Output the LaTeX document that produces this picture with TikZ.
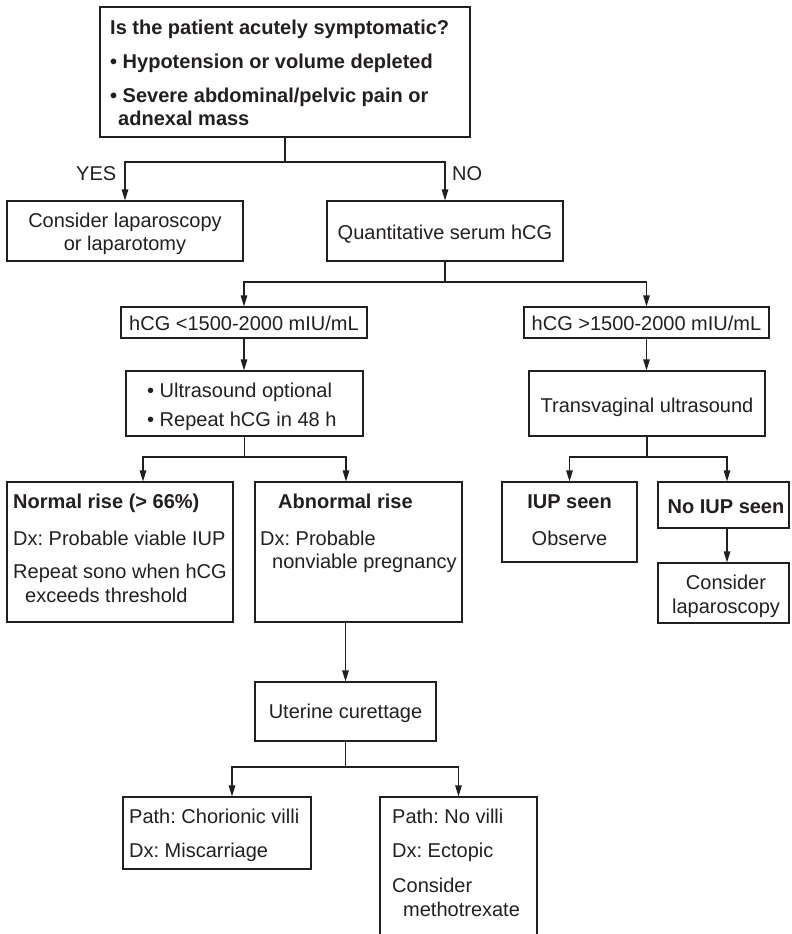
\documentclass[tikz,border=0pt]{standalone}
\usepackage{fontspec}
\setmainfont{Liberation Sans}
\usetikzlibrary{arrows.meta}
\definecolor{ink}{HTML}{231F20}
\frenchspacing
\tikzset{
  box/.style={draw=ink, line width=1.1pt, inner sep=0pt},
  txt/.style={inner sep=0pt, text=ink, font=\fontsize{20}{24}\selectfont},
  btxt/.style={inner sep=0pt, text=ink, font=\fontsize{20}{24}\selectfont\bfseries},
  ln/.style={draw=ink, line width=1.1pt},
  arr/.style={draw=ink, line width=1.1pt, -{Triangle[length=11pt,width=6.5pt]}}
}
\begin{document}
\begin{tikzpicture}[x=1pt,y=-1pt]
\useasboundingbox (0,0) rectangle (792,934);
\clip (0,0) rectangle (792,934);
% boxes
\node[box, minimum width=370pt, minimum height=130pt] (B1) at (285,72) {};
\node[box, minimum width=236pt, minimum height=60pt] (B2) at (125,231) {};
\node[box, minimum width=236pt, minimum height=60pt] (B3) at (445,231) {};
\node[box, minimum width=246pt, minimum height=31pt] (B4) at (244,322.5) {};
\node[box, minimum width=245pt, minimum height=31pt] (B5) at (646.5,322.5) {};
\node[box, minimum width=237pt, minimum height=65pt] (B6) at (244.5,403.5) {};
\node[box, minimum width=236pt, minimum height=65pt] (B7) at (647,403.5) {};
\node[box, minimum width=226pt, minimum height=140pt] (B8) at (120,552) {};
\node[box, minimum width=207pt, minimum height=140pt] (B9) at (358.5,552) {};
\node[box, minimum width=135pt, minimum height=80pt] (B10) at (569.5,522) {};
\node[box, minimum width=131pt, minimum height=46pt] (B11) at (723.5,505) {};
\node[box, minimum width=131pt, minimum height=60pt] (B12) at (723.5,593) {};
\node[box, minimum width=181pt, minimum height=59pt] (B13) at (345.5,711.5) {};
\node[box, minimum width=188pt, minimum height=72pt] (B14) at (217,833) {};
\node[box, minimum width=157pt, minimum height=153pt] (B15) at (458.5,873.5) {};
% texts
\node[btxt, anchor=base west] (t1a) at (110,35) {Is the patient acutely symptomatic?};
\node[btxt, anchor=base west] (t1b) at (110,68) {• Hypotension or volume depleted};
\node[btxt, anchor=base west] (t1c) at (110,102) {• Severe abdominal/pelvic pain or};
\node[btxt, anchor=base west] (t1d) at (118,125) {adnexal mass};
\node[txt, anchor=base] (t2a) at (125,227) {Consider laparoscopy};
\node[txt, anchor=base] (t2b) at (125,250) {or laparotomy};
\node[txt, anchor=base] (t3) at (445,239) {Quantitative serum hCG};
\node[txt, anchor=base] (t4) at (244,330) {hCG <1500-2000 mIU/mL};
\node[txt, anchor=base] (t5) at (646.5,330) {hCG >1500-2000 mIU/mL};
\node[txt, anchor=base west] (t6a) at (147,397) {• Ultrasound optional};
\node[txt, anchor=base west] (t6b) at (147,426) {• Repeat hCG in 48 h};
\node[txt, anchor=base] (t7) at (647,412) {Transvaginal ultrasound};
\node[btxt, anchor=base west] (t8a) at (13,508) {Normal rise (> 66\%)};
\node[txt, anchor=base west] (t8b) at (13,545) {Dx: Probable viable IUP};
\node[txt, anchor=base west] (t8c) at (13,578) {Repeat sono when hCG};
\node[txt, anchor=base west] (t8d) at (25,602) {exceeds threshold};
\node[btxt, anchor=base west] (t9a) at (278,508) {Abnormal rise};
\node[txt, anchor=base west] (t9b) at (260,545) {Dx: Probable};
\node[txt, anchor=base west] (t9c) at (272,568) {nonviable pregnancy};
\node[btxt, anchor=base] (t10a) at (569.5,508) {IUP seen};
\node[txt, anchor=base] (t10b) at (569.5,545) {Observe};
\node[btxt, anchor=base] (t11) at (726,513) {No IUP seen};
\node[txt, anchor=base] (t12a) at (726,589) {Consider};
\node[txt, anchor=base] (t12b) at (726,613) {laparoscopy};
\node[txt, anchor=base] (t13) at (345.5,718) {Uterine curettage};
\node[txt, anchor=base west] (t14a) at (129,823) {Path: Chorionic villi};
\node[txt, anchor=base west] (t14b) at (129,857) {Dx: Miscarriage};
\node[txt, anchor=base west] (t15a) at (392,823) {Path: No villi};
\node[txt, anchor=base west] (t15b) at (392,857) {Dx: Ectopic};
\node[txt, anchor=base west] (t15c) at (392,892) {Consider};
\node[txt, anchor=base west] (t15d) at (403,916) {methotrexate};
\node[txt, anchor=base west] (yes) at (76,180) {YES};
\node[txt, anchor=base west] (no) at (452,180) {NO};
% connectors
\coordinate (s1) at (285,162);
\draw[ln] (B1.south) -- (s1);
\draw[arr] (s1) -| (B2.north);
\draw[arr] (s1) -| (B3.north);
\coordinate (s2) at (445,282);
\draw[ln] (B3.south) -- (s2);
\draw[arr] (s2) -| (B4.north);
\draw[arr] (s2) -| (B5.north);
\draw[arr] (B4.south) -- (B4.south |- B6.north);
\draw[arr] (B5.south) -- (B5.south |- B7.north);
\coordinate (s3) at (244.5,457);
\draw[ln] (B6.south) -- (s3);
\draw[arr] (s3) -| ([xshift=23pt]B8.north);
\draw[arr] (s3) -| ([xshift=-12.5pt]B9.north);
\coordinate (s4) at (647,457);
\draw[ln] (B7.south) -- (s4);
\draw[arr] (s4) -| (B10.north);
\draw[arr] (s4) -| ([xshift=3.5pt]B11.north);
\draw[arr] ([xshift=3.5pt]B11.south) -- ([xshift=3.5pt]B12.north);
\draw[arr] (B13.north |- B9.south) -- (B13.north);
\coordinate (s5) at (345.5,767);
\draw[ln] (B13.south) -- (s5);
\draw[arr] (s5) -| ([xshift=15pt]B14.north);
\draw[arr] (s5) -| (B15.north);
\end{tikzpicture}
\end{document}
